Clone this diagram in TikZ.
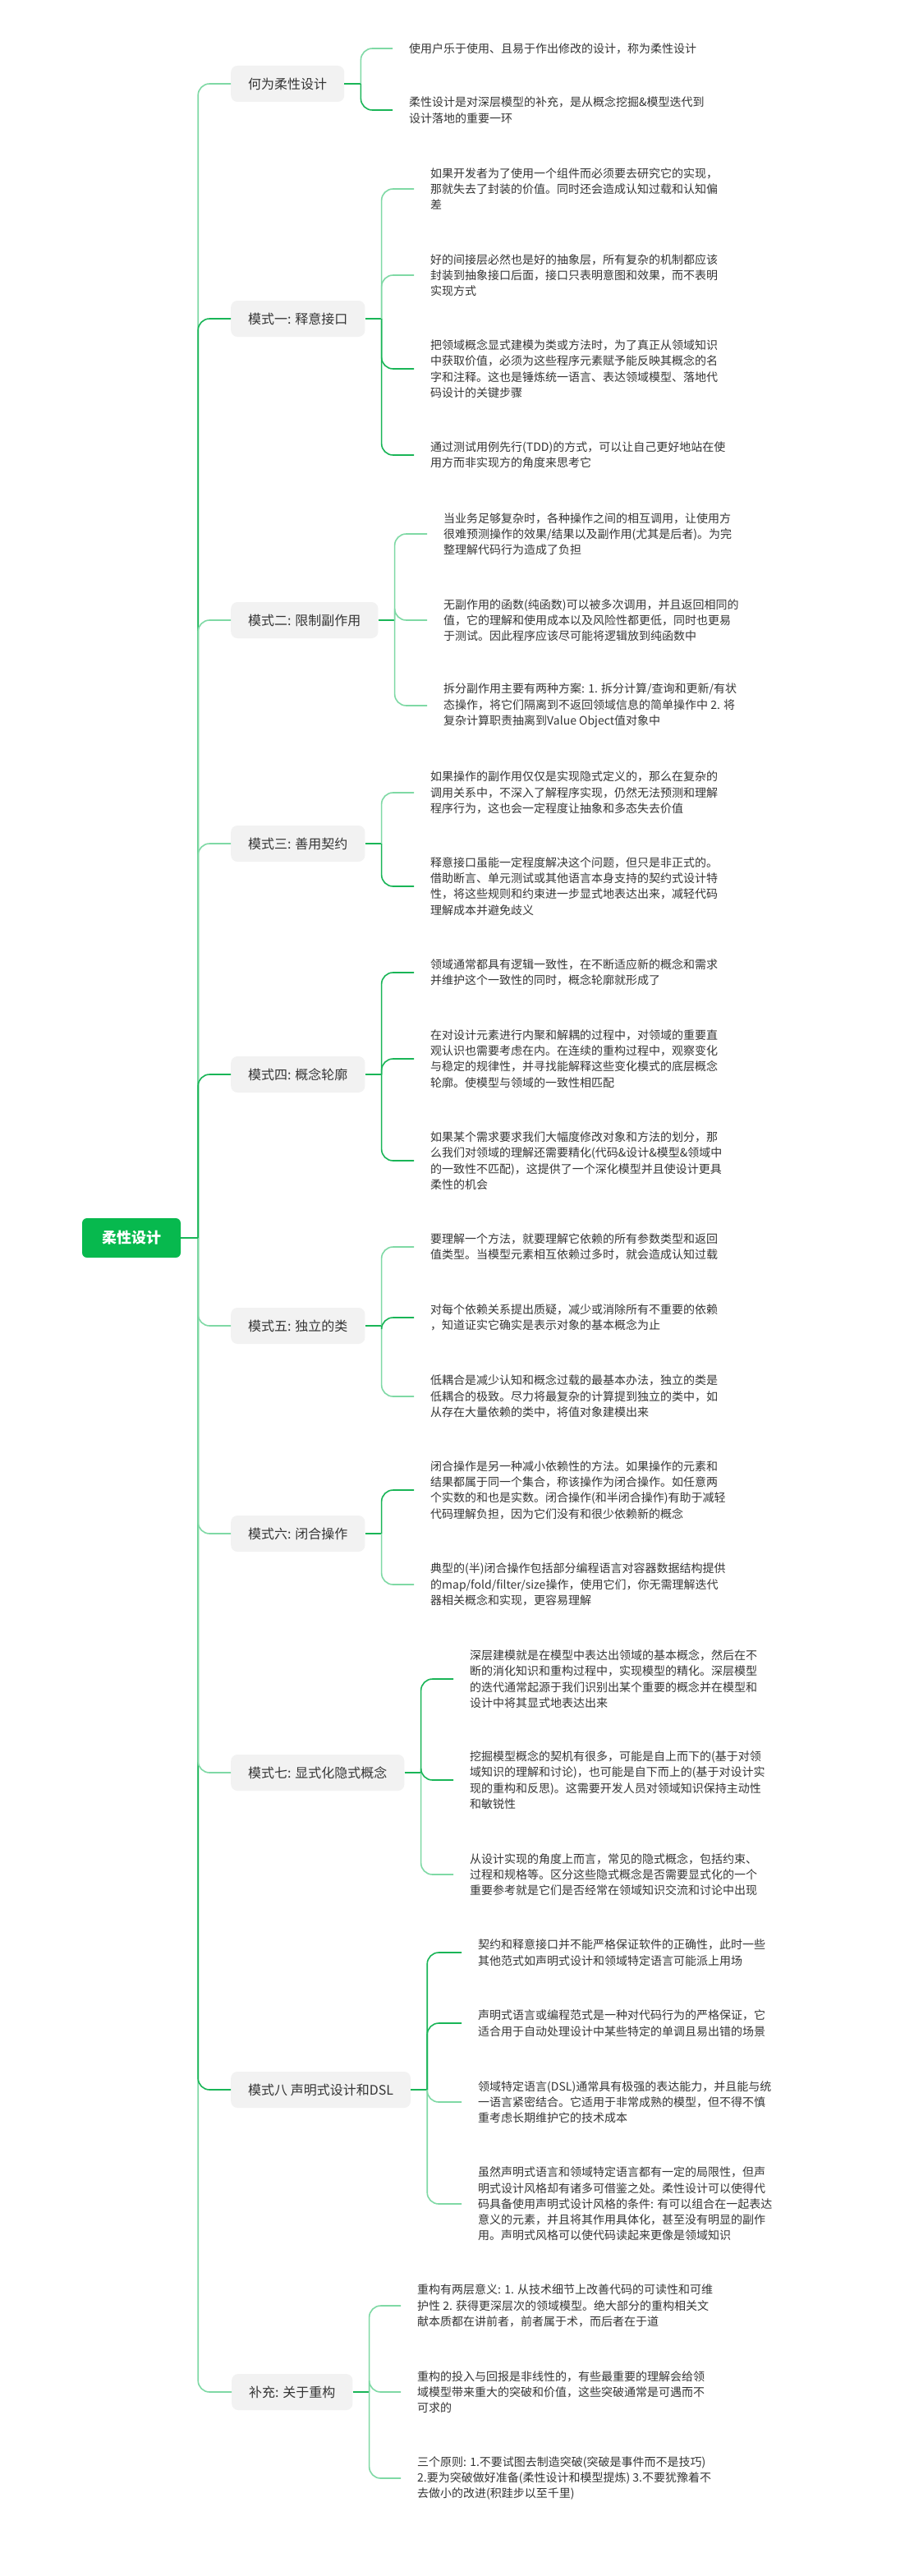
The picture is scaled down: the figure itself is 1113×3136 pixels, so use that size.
\documentclass[tikz,border=0pt]{standalone}
\usepackage{fontspec}
\setmainfont{Noto Sans CJK SC}
\usepackage{xcolor}
\usepackage{tikz}
\definecolor{rootgreen}{HTML}{07B94E}
\definecolor{topicgray}{HTML}{F2F2F2}
\definecolor{inkgray}{HTML}{353535}
\definecolor{linedark}{HTML}{19B557}
\definecolor{linelight}{HTML}{7FD9A5}

\tikzset{
  rootbox/.style={fill=rootgreen, rounded corners=6pt, text=white,
    font=\bfseries\fontsize{18}{22}\selectfont, minimum width=120pt, minimum height=48pt},
  topic/.style={fill=topicgray, rounded corners=8pt, text=inkgray, anchor=west,
    font=\fontsize{16}{20}\selectfont, inner xsep=21pt, minimum height=44pt},
  leaf/.style={anchor=west, align=left, text=inkgray,
    font=\fontsize{14}{19.3}\selectfont, inner xsep=20pt, inner ysep=0pt},
  linkdark/.style={draw=linedark, line width=1.6pt, rounded corners=14pt},
  linklight/.style={draw=linelight, line width=1.6pt, rounded corners=14pt},
}

\begin{document}
\begin{tikzpicture}[x=1pt, y=-1pt]
  \fill[white] (0,0) rectangle (1113,3136);
  \useasboundingbox (0,0) rectangle (1113,3136);

  % root and its topics
  \node[rootbox] (root) at (160,1507) {柔性设计};
  \coordinate (trunk) at ([xshift=21pt]root.east);

  \node[topic] (what) at (281,102) {何为柔性设计};
  \node[topic] (intf) at (281,388) {模式一: 释意接口};
  \node[topic] (side) at (281,755) {模式二: 限制副作用};
  \node[topic] (contract) at (281,1027) {模式三: 善用契约};
  \node[topic] (contour) at (281,1308) {模式四: 概念轮廓};
  \node[topic] (indep) at (281,1614) {模式五: 独立的类};
  \node[topic] (closure) at (281,1867) {模式六: 闭合操作};
  \node[topic] (implicit) at (281,2158) {模式七: 显式化隐式概念};
  \node[topic] (dsl) at (281,2544) {模式八 声明式设计和DSL};
  \node[topic] (refactor) at (282,2912) {补充: 关于重构};

  \draw[linklight] (trunk) |- (what.west);
  \draw[linklight] (trunk) |- (refactor.west);
  \draw[linkdark] (trunk) |- (intf.west);
  \draw[linkdark] (trunk) |- (dsl.west);
  \draw[linklight] (trunk) |- (side.west);
  \draw[linklight] (trunk) |- (implicit.west);
  \draw[linklight] (trunk) |- (contract.west);
  \draw[linklight] (trunk) |- (closure.west);
  \draw[linkdark] (trunk) |- (contour.west);
  \draw[linklight] (trunk) |- (indep.west);
  \draw[linkdark] (root.east) -- (trunk);

  % 何为柔性设计
  \coordinate (whatj) at ([xshift=20pt]what.east);
  \node[leaf] (what1) at (478,59) {使用户乐于使用、且易于作出修改的设计，称为柔性设计};
  \node[leaf] (what2) at (478,134) {柔性设计是对深层模型的补充，是从概念挖掘\&模型迭代到\\设计落地的重要一环};
  \draw[linkdark] (what.east) -- (whatj);
  \draw[linklight] (whatj) |- (what1.west);
  \draw[linkdark] (whatj) |- (what2.west);

  % 模式一
  \coordinate (intfj) at ([xshift=20pt]intf.east);
  \node[leaf] (intf1) at (504,230) {如果开发者为了使用一个组件而必须要去研究它的实现，\\那就失去了封装的价值。同时还会造成认知过载和认知偏\\差};
  \node[leaf] (intf2) at (504,335) {好的间接层必然也是好的抽象层，所有复杂的机制都应该\\封装到抽象接口后面，接口只表明意图和效果，而不表明\\实现方式};
  \node[leaf] (intf3) at (504,449) {把领域概念显式建模为类或方法时，为了真正从领域知识\\中获取价值，必须为这些程序元素赋予能反映其概念的名\\字和注释。这也是锤炼统一语言、表达领域模型、落地代\\码设计的关键步骤};
  \node[leaf] (intf4) at (504,554) {通过测试用例先行(TDD)的方式，可以让自己更好地站在使\\用方而非实现方的角度来思考它};
  \draw[linkdark] (intf.east) -- (intfj);
  \draw[linklight] (intfj) |- (intf1.west);
  \draw[linkdark] (intfj) |- (intf4.west);
  \draw[linklight] (intfj) |- (intf2.west);
  \draw[linkdark] (intfj) |- (intf3.west);

  % 模式二
  \coordinate (sidej) at ([xshift=20pt]side.east);
  \node[leaf] (side1) at (520,650) {当业务足够复杂时，各种操作之间的相互调用，让使用方\\很难预测操作的效果/结果以及副作用(尤其是后者)。为完\\整理解代码行为造成了负担};
  \node[leaf] (side2) at (520,755) {无副作用的函数(纯函数)可以被多次调用，并且返回相同的\\值，它的理解和使用成本以及风险性都更低，同时也更易\\于测试。因此程序应该尽可能将逻辑放到纯函数中};
  \node[leaf] (side3) at (520,859) {拆分副作用主要有两种方案: 1. 拆分计算/查询和更新/有状\\态操作，将它们隔离到不返回领域信息的简单操作中 2. 将\\复杂计算职责抽离到Value Object值对象中};
  \draw[linkdark] (side.east) -- (sidej);
  \draw[linklight] (sidej) |- (side1.west);
  \draw[linklight] (sidej) |- (side3.west);
  \draw[linklight] (sidej) |- (side2.west);

  % 模式三
  \coordinate (contractj) at ([xshift=20pt]contract.east);
  \node[leaf] (contract1) at (504,965) {如果操作的副作用仅仅是实现隐式定义的，那么在复杂的\\调用关系中，不深入了解程序实现，仍然无法预测和理解\\程序行为，这也会一定程度让抽象和多态失去价值};
  \node[leaf] (contract2) at (504,1079) {释意接口虽能一定程度解决这个问题，但只是非正式的。\\借助断言、单元测试或其他语言本身支持的契约式设计特\\性，将这些规则和约束进一步显式地表达出来，减轻代码\\理解成本并避免歧义};
  \draw[linkdark] (contract.east) -- (contractj);
  \draw[linklight] (contractj) |- (contract1.west);
  \draw[linkdark] (contractj) |- (contract2.west);

  % 模式四
  \coordinate (contourj) at ([xshift=20pt]contour.east);
  \node[leaf] (contour1) at (504,1184) {领域通常都具有逻辑一致性，在不断适应新的概念和需求\\并维护这个一致性的同时，概念轮廓就形成了};
  \node[leaf] (contour2) at (504,1289) {在对设计元素进行内聚和解耦的过程中，对领域的重要直\\观认识也需要考虑在内。在连续的重构过程中，观察变化\\与稳定的规律性，并寻找能解释这些变化模式的底层概念\\轮廓。使模型与领域的一致性相匹配};
  \node[leaf] (contour3) at (504,1413) {如果某个需求要求我们大幅度修改对象和方法的划分，那\\么我们对领域的理解还需要精化(代码\&设计\&模型\&领域中\\的一致性不匹配)，这提供了一个深化模型并且使设计更具\\柔性的机会};
  \draw[linkdark] (contour.east) -- (contourj);
  \draw[linkdark] (contourj) |- (contour1.west);
  \draw[linkdark] (contourj) |- (contour3.west);
  \draw[linkdark] (contourj) |- (contour2.west);

  % 模式五
  \coordinate (indepj) at ([xshift=20pt]indep.east);
  \node[leaf] (indep1) at (504,1518) {要理解一个方法，就要理解它依赖的所有参数类型和返回\\值类型。当模型元素相互依赖过多时，就会造成认知过载};
  \node[leaf] (indep2) at (504,1604) {对每个依赖关系提出质疑，减少或消除所有不重要的依赖\\，知道证实它确实是表示对象的基本概念为止};
  \node[leaf] (indep3) at (504,1700) {低耦合是减少认知和概念过载的最基本办法，独立的类是\\低耦合的极致。尽力将最复杂的计算提到独立的类中，如\\从存在大量依赖的类中，将值对象建模出来};
  \draw[linkdark] (indep.east) -- (indepj);
  \draw[linklight] (indepj) |- (indep1.west);
  \draw[linklight] (indepj) |- (indep3.west);
  \draw[linkdark] (indepj) |- (indep2.west);

  % 模式六
  \coordinate (closurej) at ([xshift=20pt]closure.east);
  \node[leaf] (closure1) at (504,1814) {闭合操作是另一种减小依赖性的方法。如果操作的元素和\\结果都属于同一个集合，称该操作为闭合操作。如任意两\\个实数的和也是实数。闭合操作(和半闭合操作)有助于减轻\\代码理解负担，因为它们没有和很少依赖新的概念};
  \node[leaf] (closure2) at (504,1929) {典型的(半)闭合操作包括部分编程语言对容器数据结构提供\\的map/fold/filter/size操作，使用它们，你无需理解迭代\\器相关概念和实现，更容易理解};
  \draw[linkdark] (closure.east) -- (closurej);
  \draw[linkdark] (closurej) |- (closure1.west);
  \draw[linklight] (closurej) |- (closure2.west);

  % 模式七
  \coordinate (implicitj) at ([xshift=20pt]implicit.east);
  \node[leaf] (implicit1) at (552,2044) {深层建模就是在模型中表达出领域的基本概念，然后在不\\断的消化知识和重构过程中，实现模型的精化。深层模型\\的迭代通常起源于我们识别出某个重要的概念并在模型和\\设计中将其显式地表达出来};
  \node[leaf] (implicit2) at (552,2167) {挖掘模型概念的契机有很多，可能是自上而下的(基于对领\\域知识的理解和讨论)，也可能是自下而上的(基于对设计实\\现的重构和反思)。这需要开发人员对领域知识保持主动性\\和敏锐性};
  \node[leaf] (implicit3) at (552,2282) {从设计实现的角度上而言，常见的隐式概念，包括约束、\\过程和规格等。区分这些隐式概念是否需要显式化的一个\\重要参考就是它们是否经常在领域知识交流和讨论中出现};
  \draw[linkdark] (implicit.east) -- (implicitj);
  \draw[linkdark] (implicitj) |- (implicit1.west);
  \draw[linklight] (implicitj) |- (implicit3.west);
  \draw[linkdark] (implicitj) |- (implicit2.west);

  % 模式八
  \coordinate (dslj) at ([xshift=20pt]dsl.east);
  \node[leaf] (dsl1) at (562,2377) {契约和释意接口并不能严格保证软件的正确性，此时一些\\其他范式如声明式设计和领域特定语言可能派上用场};
  \node[leaf] (dsl2) at (562,2463) {声明式语言或编程范式是一种对代码行为的严格保证，它\\适合用于自动处理设计中某些特定的单调且易出错的场景};
  \node[leaf] (dsl3) at (562,2559) {领域特定语言(DSL)通常具有极强的表达能力，并且能与统\\一语言紧密结合。它适用于非常成熟的模型，但不得不慎\\重考虑长期维护它的技术成本};
  \node[leaf] (dsl4) at (562,2683) {虽然声明式语言和领域特定语言都有一定的局限性，但声\\明式设计风格却有诸多可借鉴之处。柔性设计可以使得代\\码具备使用声明式设计风格的条件: 有可以组合在一起表达\\意义的元素，并且将其作用具体化，甚至没有明显的副作\\用。声明式风格可以使代码读起来更像是领域知识};
  \draw[linkdark] (dsl.east) -- (dslj);
  \draw[linkdark] (dslj) |- (dsl1.west);
  \draw[linklight] (dslj) |- (dsl4.west);
  \draw[linkdark] (dslj) |- (dsl2.west);
  \draw[linklight] (dslj) |- (dsl3.west);

  % 补充
  \coordinate (refactorj) at ([xshift=20pt]refactor.east);
  \node[leaf] (refactor1) at (488,2807) {重构有两层意义: 1. 从技术细节上改善代码的可读性和可维\\护性 2. 获得更深层次的领域模型。绝大部分的重构相关文\\献本质都在讲前者，前者属于术，而后者在于道};
  \node[leaf] (refactor2) at (488,2912) {重构的投入与回报是非线性的，有些最重要的理解会给领\\域模型带来重大的突破和价值，这些突破通常是可遇而不\\可求的};
  \node[leaf] (refactor3) at (488,3017) {三个原则: 1.不要试图去制造突破(突破是事件而不是技巧)\\2.要为突破做好准备(柔性设计和模型提炼) 3.不要犹豫着不\\去做小的改进(积跬步以至千里)};
  \draw[linkdark] (refactor.east) -- (refactorj);
  \draw[linklight] (refactorj) |- (refactor1.west);
  \draw[linklight] (refactorj) |- (refactor3.west);
  \draw[linklight] (refactorj) |- (refactor2.west);
\end{tikzpicture}
\end{document}
